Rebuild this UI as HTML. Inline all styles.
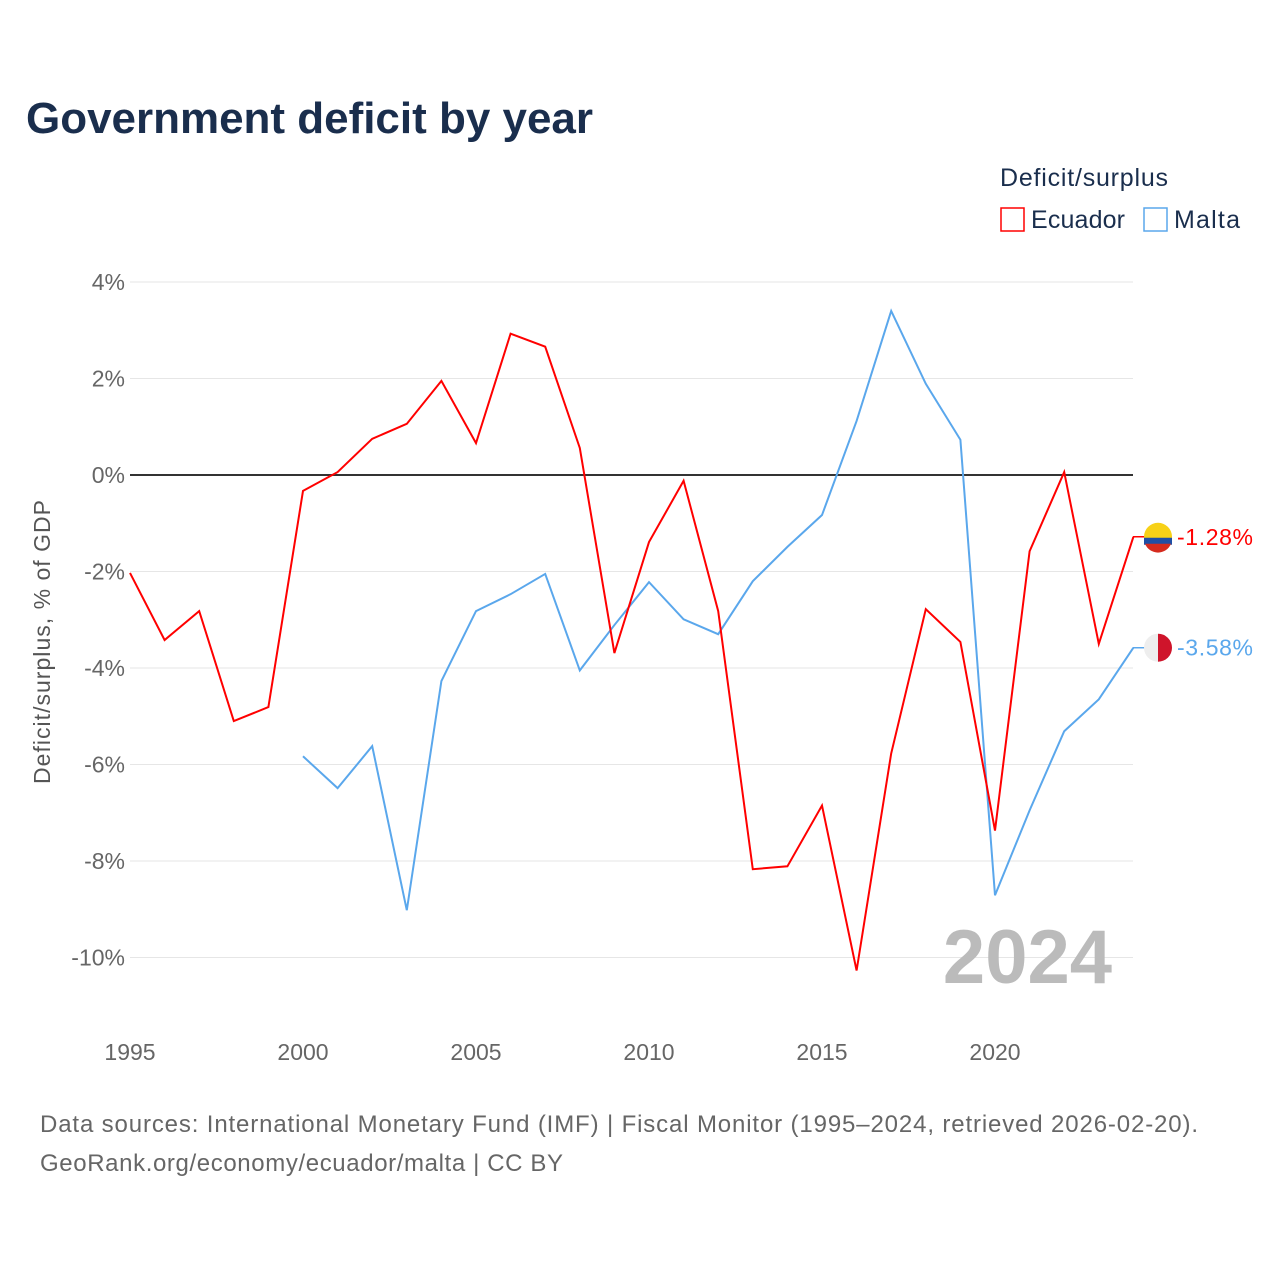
<!DOCTYPE html>
<html><head><meta charset="utf-8">
<style>
body{margin:0;background:#fff;width:1280px;height:1280px;overflow:hidden;font-family:"Liberation Sans",sans-serif}
</style></head>
<body>
<svg width="1280" height="1280" xmlns="http://www.w3.org/2000/svg" id="chart">
<text x="26" y="133" font-size="44" font-weight="bold" fill="#1a2e4d" textLength="567">Government deficit by year</text>
<text x="1000" y="186" font-size="25" fill="#1a2e4d" textLength="168">Deficit/surplus</text>
<g><rect x="1001" y="208" width="23" height="23" fill="none" stroke="#ff0000" stroke-width="1.5"/><text x="1031" y="228" font-size="25" fill="#1a2e4d" textLength="94">Ecuador</text></g>
<g><rect x="1144" y="208" width="23" height="23" fill="none" stroke="#5aa7ec" stroke-width="1.5"/><text x="1174" y="228" font-size="25" fill="#1a2e4d" textLength="66">Malta</text></g>
<text transform="translate(50,642) rotate(-90)" text-anchor="middle" font-size="23" fill="#555" textLength="284">Deficit/surplus, % of GDP</text>
<g id="grid"></g><g id="series"></g>
<text x="1112" y="983" text-anchor="end" font-size="76" font-weight="bold" fill="#bbb">2024</text>
<text x="40" y="1132" font-size="24" fill="#666" textLength="1158">Data sources: International Monetary Fund (IMF) | Fiscal Monitor (1995–2024, retrieved 2026-02-20).</text>
<text x="40" y="1171" font-size="24" fill="#666" textLength="523">GeoRank.org/economy/ecuador/malta | CC BY</text>
</svg>
<script>
const years=[];for(let y=1995;y<=2024;y++)years.push(y);
const ecuador=[-2.03,-3.42,-2.82,-5.1,-4.81,-0.33,0.06,0.75,1.06,1.95,0.66,2.93,2.66,0.56,-3.69,-1.39,-0.12,-2.82,-8.17,-8.11,-6.85,-10.27,-5.77,-2.78,-3.46,-7.37,-1.58,0.06,-3.5,-1.28];
const malta=[null,null,null,null,null,-5.83,-6.49,-5.62,-9.02,-4.27,-2.82,-2.47,-2.05,-4.05,-3.11,-2.22,-2.99,-3.3,-2.2,-1.49,-0.83,1.12,3.4,1.89,0.73,-8.71,-6.95,-5.31,-4.65,-3.58];
const yTicks=[4,2,0,-2,-4,-6,-8,-10];
const xTicks=[1995,2000,2005,2010,2015,2020];
const X=y=>130+(y-1995)*34.6, Y=v=>475-v*48.25;
const NS='http://www.w3.org/2000/svg';
function mk(t,a,p){const e=document.createElementNS(NS,t);for(const k in a)e.setAttribute(k,a[k]);p.appendChild(e);return e;}
const g=document.getElementById('grid'),s=document.getElementById('series');
yTicks.forEach(v=>{
 const l=mk('line',{x1:130,x2:1133,y1:Y(v),y2:Y(v),stroke:v===0?'#333':'#e6e6e6','stroke-width':v===0?2:1},g);
 
 
 const t=mk('text',{x:125,y:Y(v)+8,'text-anchor':'end','font-size':23,fill:'#666'},g);
 t.textContent=v+'%';
 
 
});
xTicks.forEach(v=>{
 const t=mk('text',{x:X(v),y:1060,'text-anchor':'middle','font-size':23,fill:'#666'},g);
 t.textContent=v;
 
 
});
function line(data,color,name){
 let d='';data.forEach((v,i)=>{if(v===null)return;d+=(d?'L':'M')+X(years[i])+','+Y(v);});
 const p=mk('path',{d:d,fill:'none',stroke:color,'stroke-width':2},s);
 
 
 const last=data[data.length-1],cy=Y(last);
 mk('line',{x1:1133,x2:1145,y1:cy,y2:cy,stroke:color,'stroke-width':1.5},s);
 const c=mk('circle',{cx:1158,cy:cy,r:14,fill:name==='ecuador'?'#f7d117':'#eee'},s);
 
 
 if(name==='ecuador'){mk('path',{d:`M1144,${cy+1}h28v7h-28z`,fill:'#1f4fa5'},s);mk('path',{d:`M1145,${cy+7}h26a14,14 0 0 1 -26,0z`,fill:'#d52b1e'},s);}
 else{mk('path',{d:`M1158,${cy-14}a14,14 0 0 1 0,28z`,fill:'#cf142b'},s);}
 const t=mk('text',{x:1177,y:cy+8,'font-size':23,fill:color,textLength:76},s);
 t.textContent=last.toFixed(2)+'%';
 
 
}
line(malta,'#5aa7ec','malta');
line(ecuador,'#ff0000','ecuador');
</script>
</body></html>
